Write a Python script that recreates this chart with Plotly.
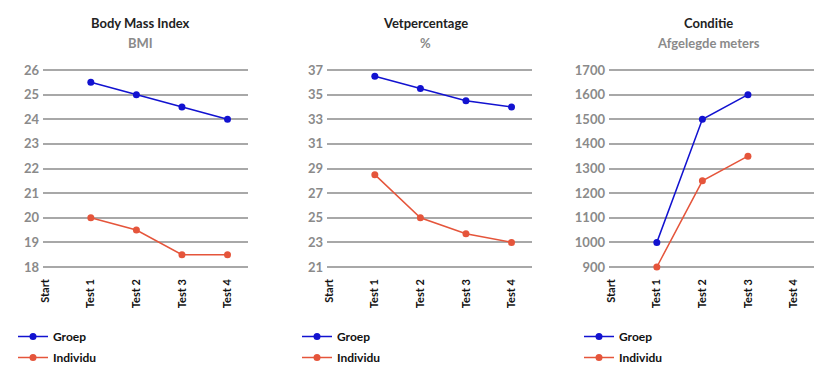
import plotly.graph_objects as go

categories = ["Start", "Test 1", "Test 2", "Test 3", "Test 4"]

bmi_groep = [None, 25.5, 25.0, 24.5, 24.0]
bmi_individu = [None, 20.0, 19.5, 18.5, 18.5]

vet_groep = [None, 36.5, 35.5, 34.5, 34.0]
vet_individu = [None, 28.5, 25.0, 23.7, 23.0]

cond_groep = [None, 1000, 1500, 1600, None]
cond_individu = [None, 900, 1250, 1350, None]

titles = ["Body Mass Index", "Vetpercentage", "Conditie"]
subtitles = ["BMI", "%", "Afgelegde meters"]
y_ranges = [(18, 26, 1), (21, 37, 2), (900, 1700, 100)]

BLUE = "#1212d0"
RED = "#e5553b"
FONT = "Lato"
OFF = 8  # page body margin
W, H = 840 - OFF, 381 - OFF

panels = [
    (bmi_groep, bmi_individu),
    (vet_groep, vet_individu),
    (cond_groep, cond_individu),
]
x_px = [(43, 248), (327, 532), (609, 814)]
y_top_px, y_bot_px = 70, 267


def fx(px):
    return (px - OFF) / W


def fy(py):
    return 1 - (py - OFF) / H


fig = go.Figure()
layout = {}
for i, (g, ind) in enumerate(panels):
    n = "" if i == 0 else str(i + 1)
    lo, hi, step = y_ranges[i]
    pad = 0.2 * step
    ppu = (y_bot_px - y_top_px) / (hi - lo)
    top = y_top_px - pad * ppu
    bot = y_bot_px + pad * ppu
    x0, x1 = x_px[i]
    leg = "legend" + n
    for name, vals, col in (("Groep", g, BLUE), ("Individu", ind, RED)):
        fig.add_trace(go.Scatter(
            x=categories, y=vals, name=name, mode="lines+markers",
            line=dict(color=col, width=1.5),
            marker=dict(color=col, size=7),
            xaxis="x" + n, yaxis="y" + n, legend=leg,
            legendgroup=name + n, cliponaxis=False,
        ))
    layout["xaxis" + n] = dict(
        domain=[fx(x0), fx(x1)], anchor="y" + n, automargin=False,
        type="category", categoryorder="array", categoryarray=categories,
        range=[-0.05, 4.45], showgrid=False, zeroline=False,
        tickangle=-90, ticks="", ticklabelstandoff=4,
        tickfont=dict(family=FONT, size=11, color="#111", weight="bold"),
    )
    layout["yaxis" + n] = dict(
        domain=[fy(bot), fy(top)], anchor="x" + n, automargin=False,
        range=[lo - pad, hi + pad], tick0=lo, dtick=step,
        showgrid=True, gridcolor="#a8a8a8", gridwidth=2, zeroline=False,
        ticks="", ticklabelstandoff=3,
        tickfont=dict(family=FONT, size=13, color="#8a8a8a", weight="bold"),
    )
    layout[leg] = dict(
        x=fx(x0 - 30), y=fy(322), xanchor="left", yanchor="top",
        orientation="v", traceorder="grouped", tracegroupgap=2,
        font=dict(family=FONT, size=12, color="#111", weight="bold"),
        bgcolor="rgba(0,0,0,0)",
    )

annotations = []
centers = [140, 425, 708]
for i in range(3):
    annotations.append(dict(
        text=titles[i], x=fx(centers[i]), y=fy(23), xref="paper", yref="paper",
        showarrow=False, xanchor="center", yanchor="middle",
        font=dict(family=FONT, size=13, color="#222", weight="bold"),
    ))
    annotations.append(dict(
        text=subtitles[i], x=fx(centers[i]), y=fy(43), xref="paper", yref="paper",
        showarrow=False, xanchor="center", yanchor="middle",
        font=dict(family=FONT, size=13, color="#8a8a8a", weight="bold"),
    ))

fig.update_layout(
    width=W, height=H, margin=dict(l=0, r=0, t=0, b=0, pad=0, autoexpand=False),
    paper_bgcolor="white", plot_bgcolor="white",
    annotations=annotations, showlegend=True, **layout,
)
fig.write_html("out.html")
